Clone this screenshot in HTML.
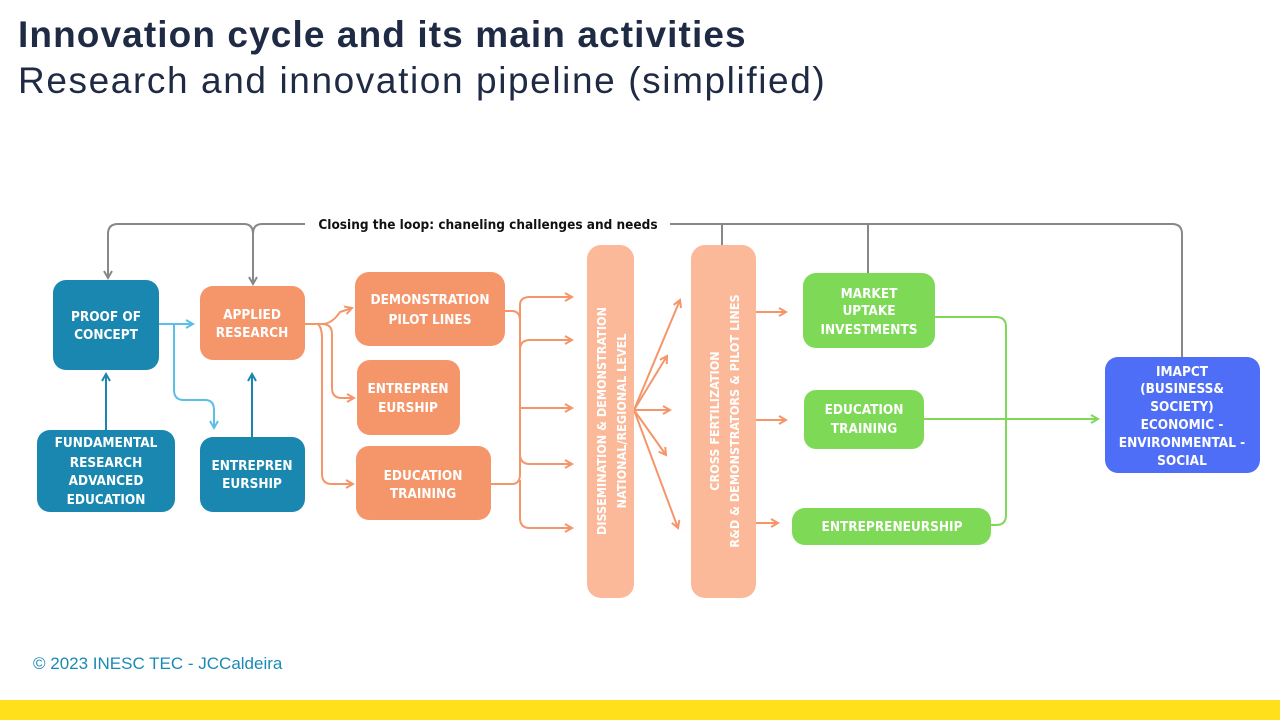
<!DOCTYPE html>
<html><head><meta charset="utf-8"><style>
body{margin:0;width:1280px;height:720px;background:#fff;overflow:hidden;position:relative;font-family:"Liberation Sans",sans-serif}
.t1{position:absolute;left:18px;top:14px;font-size:37px;font-weight:bold;color:#1f2a44;letter-spacing:1.1px}
.t2{position:absolute;left:18px;top:60px;font-size:37px;color:#1f2a44;letter-spacing:1.6px}
.ft{position:absolute;left:33px;top:654px;font-size:17px;color:#1a8ab5}
.bar{position:absolute;left:0;top:700px;width:1280px;height:20px;background:#ffe01b}
svg{position:absolute;left:0;top:0}
svg text{font-family:"DejaVu Sans Condensed","Liberation Sans",sans-serif;font-weight:bold;fill:#fff;font-size:13.5px;text-anchor:middle}
</style></head><body>
<div class="t1">Innovation cycle and its main activities</div>
<div class="t2">Research and innovation pipeline (simplified)</div>
<svg width="1280" height="720" viewBox="0 0 1280 720">
<defs>
<marker id="ag" markerWidth="10" markerHeight="10" refX="8" refY="5" orient="auto" markerUnits="userSpaceOnUse"><path d="M1,1 L8,5 L1,9" fill="none" stroke="#888" stroke-width="2"/></marker>
<marker id="ab" markerWidth="10" markerHeight="10" refX="8" refY="5" orient="auto" markerUnits="userSpaceOnUse"><path d="M1,1 L8,5 L1,9" fill="none" stroke="#5bc0e8" stroke-width="2"/></marker>
<marker id="ad" markerWidth="10" markerHeight="10" refX="8" refY="5" orient="auto" markerUnits="userSpaceOnUse"><path d="M1,1 L8,5 L1,9" fill="none" stroke="#1a87b0" stroke-width="2"/></marker>
<marker id="ao" markerWidth="10" markerHeight="10" refX="8" refY="5" orient="auto" markerUnits="userSpaceOnUse"><path d="M1,1 L8,5 L1,9" fill="none" stroke="#f5956a" stroke-width="2"/></marker>
<marker id="agr" markerWidth="10" markerHeight="10" refX="8" refY="5" orient="auto" markerUnits="userSpaceOnUse"><path d="M1,1 L8,5 L1,9" fill="none" stroke="#7ed957" stroke-width="2"/></marker>
</defs>
<g fill="none" stroke="#888" stroke-width="2">
<path d="M305,224 H262 Q253,224 253,234 V284" marker-end="url(#ag)"/>
<path d="M253,234 Q253,224 244,224 H118 Q108,224 108,234 V278" marker-end="url(#ag)"/>
<path d="M670,224 H1172 Q1182,224 1182,234 V357"/>
<path d="M722,224 V245"/><path d="M868,224 V273"/>
</g>
<text x="488" y="229" style="fill:#111;font-size:13.5px;font-family:'DejaVu Sans Condensed','Liberation Sans',sans-serif">Closing the loop: chaneling challenges and needs</text>
<g fill="none" stroke-width="2">
<path d="M159,324 H193" stroke="#5bc0e8" marker-end="url(#ab)"/>
<path d="M174,324 V390 Q174,400 184,400 H205 Q214,400 214,410 V428" stroke="#5bc0e8" marker-end="url(#ab)"/>
<path d="M106,430 V374" stroke="#1a87b0" marker-end="url(#ad)"/>
<path d="M252,437 V374" stroke="#1a87b0" marker-end="url(#ad)"/>
</g>
<g fill="none" stroke="#f5956a" stroke-width="2">
<path d="M305,324 H322 Q332,324 340,312 L352,308" marker-end="url(#ao)"/>
<path d="M322,324 Q332,324 332,334 V388 Q332,398 342,398 H354" marker-end="url(#ao)"/>
<path d="M318,324 Q322,328 322,338 V474 Q322,484 332,484 H353" marker-end="url(#ao)"/>
<path d="M505,311 H512 Q520,311 520,321 V474 Q520,484 512,484 H491"/>
<path d="M520,330 V305 Q520,297 530,297 H572" marker-end="url(#ao)"/>
<path d="M520,350 Q520,340 530,340 H572" marker-end="url(#ao)"/>
<path d="M520,408 H572" marker-end="url(#ao)"/>
<path d="M520,454 Q520,464 530,464 H572" marker-end="url(#ao)"/>
<path d="M520,480 V518 Q520,528 530,528 H572" marker-end="url(#ao)"/>
<path d="M634,410 L680,300" marker-end="url(#ao)"/>
<path d="M634,410 L667,356" marker-end="url(#ao)"/>
<path d="M634,410 L670,410" marker-end="url(#ao)"/>
<path d="M634,410 L666,455" marker-end="url(#ao)"/>
<path d="M634,410 L678,528" marker-end="url(#ao)"/>
<path d="M756,312 H786" marker-end="url(#ao)"/>
<path d="M756,420 H786" marker-end="url(#ao)"/>
<path d="M756,523 H778" marker-end="url(#ao)"/>
</g>
<g fill="none" stroke="#7ed957" stroke-width="2">
<path d="M935,317 H996 Q1006,317 1006,327 V515 Q1006,525 996,525 H991"/>
<path d="M924,419 H1098" marker-end="url(#agr)"/>
</g>
<rect x="53" y="280" width="106" height="90" rx="13" fill="#1a87b0"/>
<text x="106" y="321">PROOF OF</text><text x="106" y="339">CONCEPT</text>
<rect x="37" y="430" width="138" height="82" rx="13" fill="#1a87b0"/>
<text x="106" y="447">FUNDAMENTAL</text><text x="106" y="467">RESEARCH</text><text x="106" y="485">ADVANCED</text><text x="106" y="504">EDUCATION</text>
<rect x="200" y="437" width="105" height="75" rx="13" fill="#1a87b0"/>
<text x="252" y="470">ENTREPREN</text><text x="252" y="488">EURSHIP</text>
<rect x="200" y="286" width="105" height="74" rx="13" fill="#f5956a"/>
<text x="252" y="319">APPLIED</text><text x="252" y="337">RESEARCH</text>
<rect x="355" y="272" width="150" height="74" rx="14" fill="#f5956a"/>
<text x="430" y="304">DEMONSTRATION</text><text x="430" y="324">PILOT LINES</text>
<rect x="357" y="360" width="103" height="75" rx="13" fill="#f5956a"/>
<text x="408" y="393">ENTREPREN</text><text x="408" y="412">EURSHIP</text>
<rect x="356" y="446" width="135" height="74" rx="13" fill="#f5956a"/>
<text x="423" y="480">EDUCATION</text><text x="423" y="498">TRAINING</text>
<rect x="587" y="245" width="47" height="353" rx="14" fill="#fbb99a"/>
<text transform="translate(606,421) rotate(-90)" style="font-size:12.5px">DISSEMINATION &amp; DEMONSTRATION</text>
<text transform="translate(626,421) rotate(-90)" style="font-size:12.5px">NATIONAL/REGIONAL LEVEL</text>
<rect x="691" y="245" width="65" height="353" rx="14" fill="#fbb99a"/>
<text transform="translate(719,421) rotate(-90)" style="font-size:12.5px">CROSS FERTILIZATION</text>
<text transform="translate(739,421) rotate(-90)" style="font-size:12.5px">R&amp;D &amp; DEMONSTRATORS &amp; PILOT LINES</text>
<rect x="803" y="273" width="132" height="75" rx="13" fill="#7ed957"/>
<text x="869" y="298">MARKET</text><text x="869" y="315">UPTAKE</text><text x="869" y="334">INVESTMENTS</text>
<rect x="804" y="390" width="120" height="59" rx="12" fill="#7ed957"/>
<text x="864" y="414">EDUCATION</text><text x="864" y="433">TRAINING</text>
<rect x="792" y="508" width="199" height="37" rx="13" fill="#7ed957"/>
<text x="892" y="531">ENTREPRENEURSHIP</text>
<rect x="1105" y="357" width="155" height="116" rx="13" fill="#4f6ef7"/>
<text x="1182" y="376">IMAPCT</text><text x="1182" y="393">(BUSINESS&amp;</text><text x="1182" y="411">SOCIETY)</text><text x="1182" y="429">ECONOMIC -</text><text x="1182" y="447">ENVIRONMENTAL -</text><text x="1182" y="465">SOCIAL</text>
</svg>
<div class="ft">© 2023 INESC TEC - JCCaldeira</div>
<div class="bar"></div>
</body></html>
